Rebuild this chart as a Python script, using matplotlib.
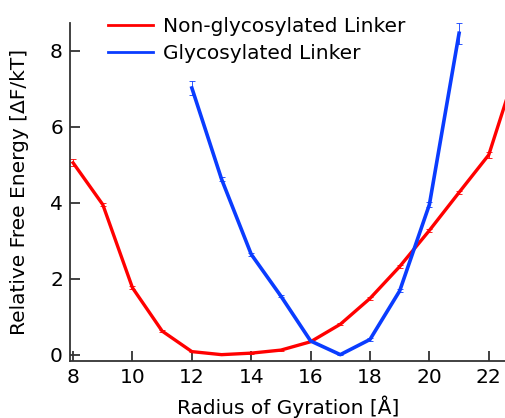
import matplotlib
matplotlib.use('Agg')
import matplotlib.pyplot as plt

plt.rcParams['font.family'] = ['DejaVu Sans']

# radius of gyration (Angstrom) and relative free energy (kT)
rg_non = [8, 9, 10, 11, 12, 13, 14, 15, 16, 17, 18, 19, 20, 21, 22, 23]
dF_non = [5.05, 3.95, 1.76, 0.62, 0.08, 0.0, 0.04, 0.12, 0.34, 0.8, 1.48, 2.32, 3.27, 4.27, 5.26, 7.7]
err_non = [0.09, 0.05, 0.04, 0.03, 0.02, 0.02, 0.02, 0.02, 0.02, 0.03, 0.03, 0.04, 0.05, 0.05, 0.08, 0.1]

rg_gly = [12, 13, 14, 15, 16, 17, 18, 19, 20, 21]
dF_gly = [7.02, 4.62, 2.64, 1.54, 0.36, 0.0, 0.4, 1.68, 3.95, 8.46]
err_gly = [0.18, 0.06, 0.04, 0.03, 0.02, 0.02, 0.03, 0.04, 0.06, 0.27]

labels = ['Non-glycosylated Linker', 'Glycosylated Linker']

fs = 14.5

fig = plt.figure(figsize=(5.06, 4.18), dpi=100)
ax = fig.add_axes([0.138, 0.137, 0.862, 0.808])

ax.errorbar(rg_non, dF_non, yerr=err_non, color='#ff0000', lw=2.4,
            elinewidth=0.6, capsize=2.5, capthick=0.6, label=labels[0])
ax.errorbar(rg_gly, dF_gly, yerr=err_gly, color='#0a3cff', lw=2.6,
            elinewidth=0.6, capsize=2.5, capthick=0.6, label=labels[1])

ax.set_xlim(7.89, 22.58)
ax.set_ylim(-0.16, 8.73)
ax.set_xticks([8, 10, 12, 14, 16, 18, 20, 22])
ax.set_yticks([0, 2, 4, 6, 8])

for s in ['top', 'right']:
    ax.spines[s].set_visible(False)
for s in ['left', 'bottom']:
    ax.spines[s].set_color('#333333')
    ax.spines[s].set_linewidth(1.3)
ax.tick_params(direction='in', length=7, width=1.3, color='#333333',
               labelsize=fs, pad=5)

ax.set_xlabel('Radius of Gyration [Å]', fontsize=fs, labelpad=6)
ax.set_ylabel('Relative Free Energy [ΔF/kT]', fontsize=fs, labelpad=15)

handles, labs = ax.get_legend_handles_labels()
handles = [h[0] for h in handles]
leg = fig.legend(handles, labs, loc='upper left', bbox_to_anchor=(0.182, 0.997),
                 frameon=False, fontsize=fs, handlelength=2.2,
                 handletextpad=0.5, labelspacing=0.4, borderpad=0.3)
for line in leg.get_lines():
    line.set_linewidth(2)

fig.savefig('out.png', dpi=100)
